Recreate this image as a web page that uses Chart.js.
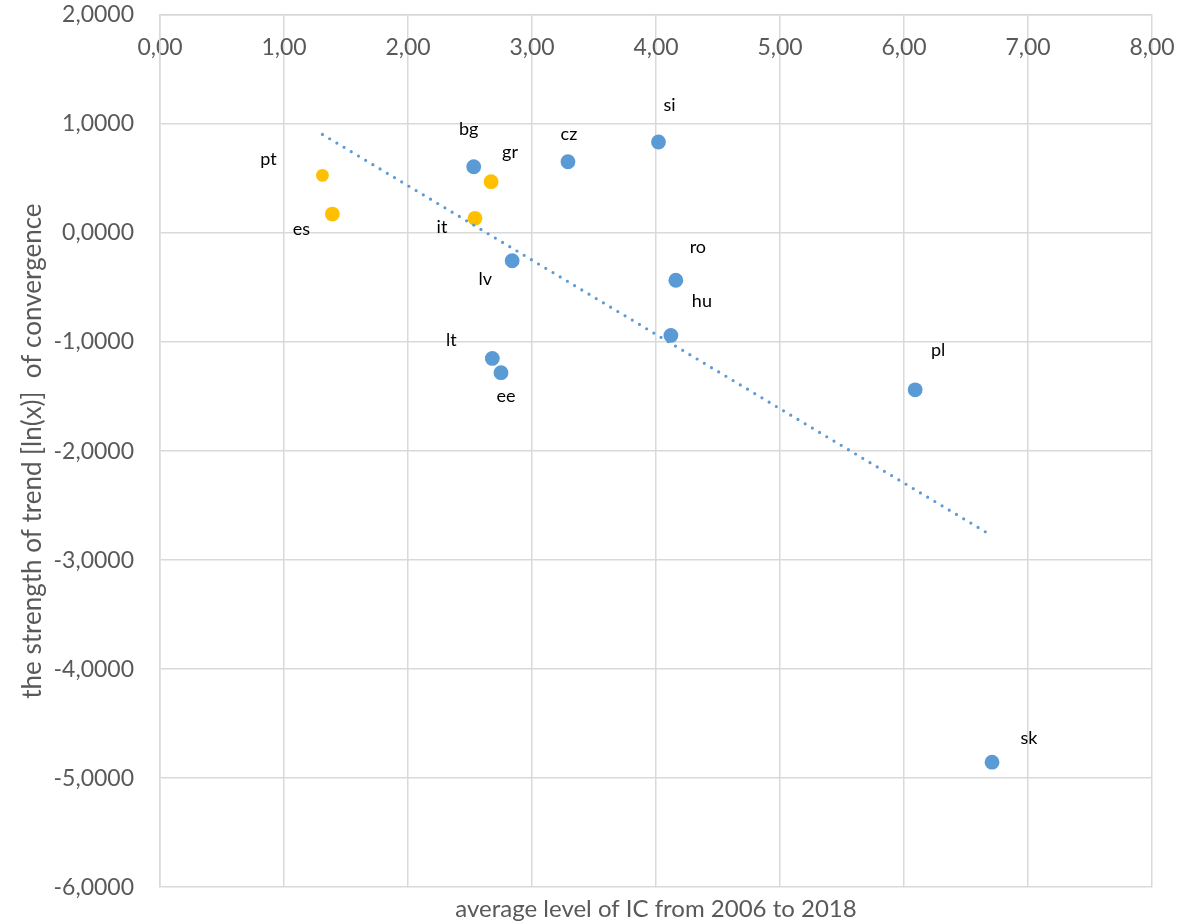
<!DOCTYPE html>
<html>
<head>
<meta charset="utf-8">
<script src="https://cdn.jsdelivr.net/npm/chart.js@4.4.0/dist/chart.umd.min.js"></script>
<style>
  html, body { margin: 0; padding: 0; background: #fff; }
  #wrap { width: 1181px; height: 924px; }
</style>
</head>
<body>
<div id="wrap"><canvas id="scatter" width="1181" height="924"></canvas></div>
<script>
// values
const countries = ["pt", "es", "it", "gr", "bg", "cz", "si", "lv", "ro", "hu", "lt", "ee", "pl", "sk"];
const icLevel = [1.31, 1.39, 2.54, 2.67, 2.53, 3.29, 4.02, 2.84, 4.16, 4.12, 2.68, 2.75, 6.09, 6.71];
const trendStrength = [0.529, 0.174, 0.135, 0.471, 0.608, 0.654, 0.835, -0.254, -0.433, -0.939, -1.150, -1.281, -1.438, -4.853];
const southern = ["pt", "es", "it", "gr"];
const xTicks = [0, 1, 2, 3, 4, 5, 6, 7, 8];
const yTicks = [2, 1, 0, -1, -2, -3, -4, -5, -6];

// where each country name sits relative to its dot (px)
const labelOffsets = {
  pt: [-54, -16], es: [-31, 15], it: [-33, 9], gr: [19, -30], bg: [-5, -38],
  cz: [1, -28], si: [11, -37], lv: [-27, 18], ro: [22, -33], hu: [31, -34],
  lt: [-41, -18], ee: [5, 23], pl: [23, -40], sk: [37, -24],
};

const BLUE = "#5B9BD5";
const ORANGE = "#FFC000";
const GREY_TEXT = "#595959";
const GRID = "#D9D9D9";
const FONT = "Lato, 'Open Sans', sans-serif";

const toPoint = (i) => ({ x: icLevel[i], y: trendStrength[i], name: countries[i] });
const southPts = [];
const ceePts = [];
countries.forEach((c, i) => {
  if (southern.includes(c)) southPts.push(toPoint(i));
  else ceePts.push(toPoint(i));
});

// linear trendline over all countries (least squares), from min to max x
const n = icLevel.length;
const meanX = icLevel.reduce((a, b) => a + b, 0) / n;
const meanY = trendStrength.reduce((a, b) => a + b, 0) / n;
let sxy = 0, sxx = 0;
for (let i = 0; i < n; i++) {
  sxy += (icLevel[i] - meanX) * (trendStrength[i] - meanY);
  sxx += (icLevel[i] - meanX) ** 2;
}
const slope = sxy / sxx;
const intercept = meanY - slope * meanX;
const minX = Math.min(...icLevel);
const maxX = Math.max(...icLevel);
const trendData = [
  { x: minX, y: intercept + slope * minX },
  { x: maxX, y: intercept + slope * maxX },
];

const pointLabels = {
  id: "pointLabels",
  afterDatasetsDraw(chart) {
    const ctx = chart.ctx;
    ctx.save();
    ctx.font = "18px " + FONT;
    ctx.fillStyle = "#000";
    ctx.textAlign = "center";
    ctx.textBaseline = "middle";
    chart.data.datasets.forEach((ds, di) => {
      if (!ds.labelled) return;
      chart.getDatasetMeta(di).data.forEach((el, i) => {
        const name = ds.data[i].name;
        const off = labelOffsets[name] || [0, -20];
        ctx.fillText(name, el.x + off[0], el.y + off[1]);
      });
    });
    ctx.restore();
  },
};

const fmt = (v, d) => v.toFixed(d).replace(".", ",");

new Chart(document.getElementById("scatter"), {
  type: "scatter",
  data: {
    datasets: [
      {
        type: "line",
        label: "trend",
        data: trendData,
        borderColor: BLUE,
        borderWidth: 3.2,
        borderDash: [0, 8.4],
        borderCapStyle: "round",
        pointRadius: 0,
        fill: false,
        order: -1,
      },
      {
        label: "southern",
        data: southPts,
        labelled: true,
        backgroundColor: ORANGE,
        borderWidth: 0,
        pointRadius: southPts.map((p) => (p.name === "pt" ? 6.4 : 7.4)),
      },
      {
        label: "cee",
        data: ceePts,
        labelled: true,
        backgroundColor: BLUE,
        borderWidth: 0,
        pointRadius: 7.4,
      },
    ],
  },
  options: {
    responsive: false,
    animation: false,
    layout: { padding: { top: 15, right: 29, bottom: 0, left: 14 } },
    plugins: {
      legend: { display: false },
      tooltip: { enabled: false },
    },
    scales: {
      x: {
        type: "linear",
        position: "top",
        min: 0,
        max: 8,
        afterBuildTicks: (s) => { s.ticks = xTicks.map((v) => ({ value: v })); },
        afterFit: (s) => { s.height = 0; s.paddingLeft = 0; s.paddingRight = 0; },
        grid: { color: GRID, lineWidth: 1.5, drawTicks: false },
        border: { color: GRID, width: 1.5 },
        ticks: {
          mirror: true,
          padding: 19,
          color: GREY_TEXT,
          font: { family: FONT, size: 23 },
          callback: (v) => fmt(v, 2),
        },
      },
      xTitle: {
        type: "linear",
        position: "bottom",
        min: 0,
        max: 8,
        afterFit: (s) => { s.paddingLeft = 0; s.paddingRight = 0; },
        grid: { display: false, drawTicks: false },
        border: { display: false },
        ticks: { display: false },
        title: {
          display: true,
          text: "average level of IC from 2006 to 2018",
          color: GREY_TEXT,
          font: { family: FONT, size: 24 },
          padding: { top: 8, bottom: 0 },
        },
      },
      y: {
        type: "linear",
        position: "left",
        min: -6,
        max: 2,
        afterBuildTicks: (s) => { s.ticks = yTicks.map((v) => ({ value: v })); },
        afterFit: (s) => { s.width = 146; s.paddingTop = 0; s.paddingBottom = 0; },
        grid: { color: GRID, lineWidth: 1.5, drawTicks: false },
        border: { color: GRID, width: 1.5 },
        ticks: {
          padding: 26,
          color: GREY_TEXT,
          font: { family: FONT, size: 23 },
          callback: (v) => fmt(v, 4),
        },
        title: {
          display: true,
          text: "the strength of trend [ln(x)]  of convergence",
          color: GREY_TEXT,
          font: { family: FONT, size: 26 },
          padding: { top: 3, bottom: 0 },
        },
      },
    },
  },
  plugins: [pointLabels],
});
</script>
</body>
</html>
